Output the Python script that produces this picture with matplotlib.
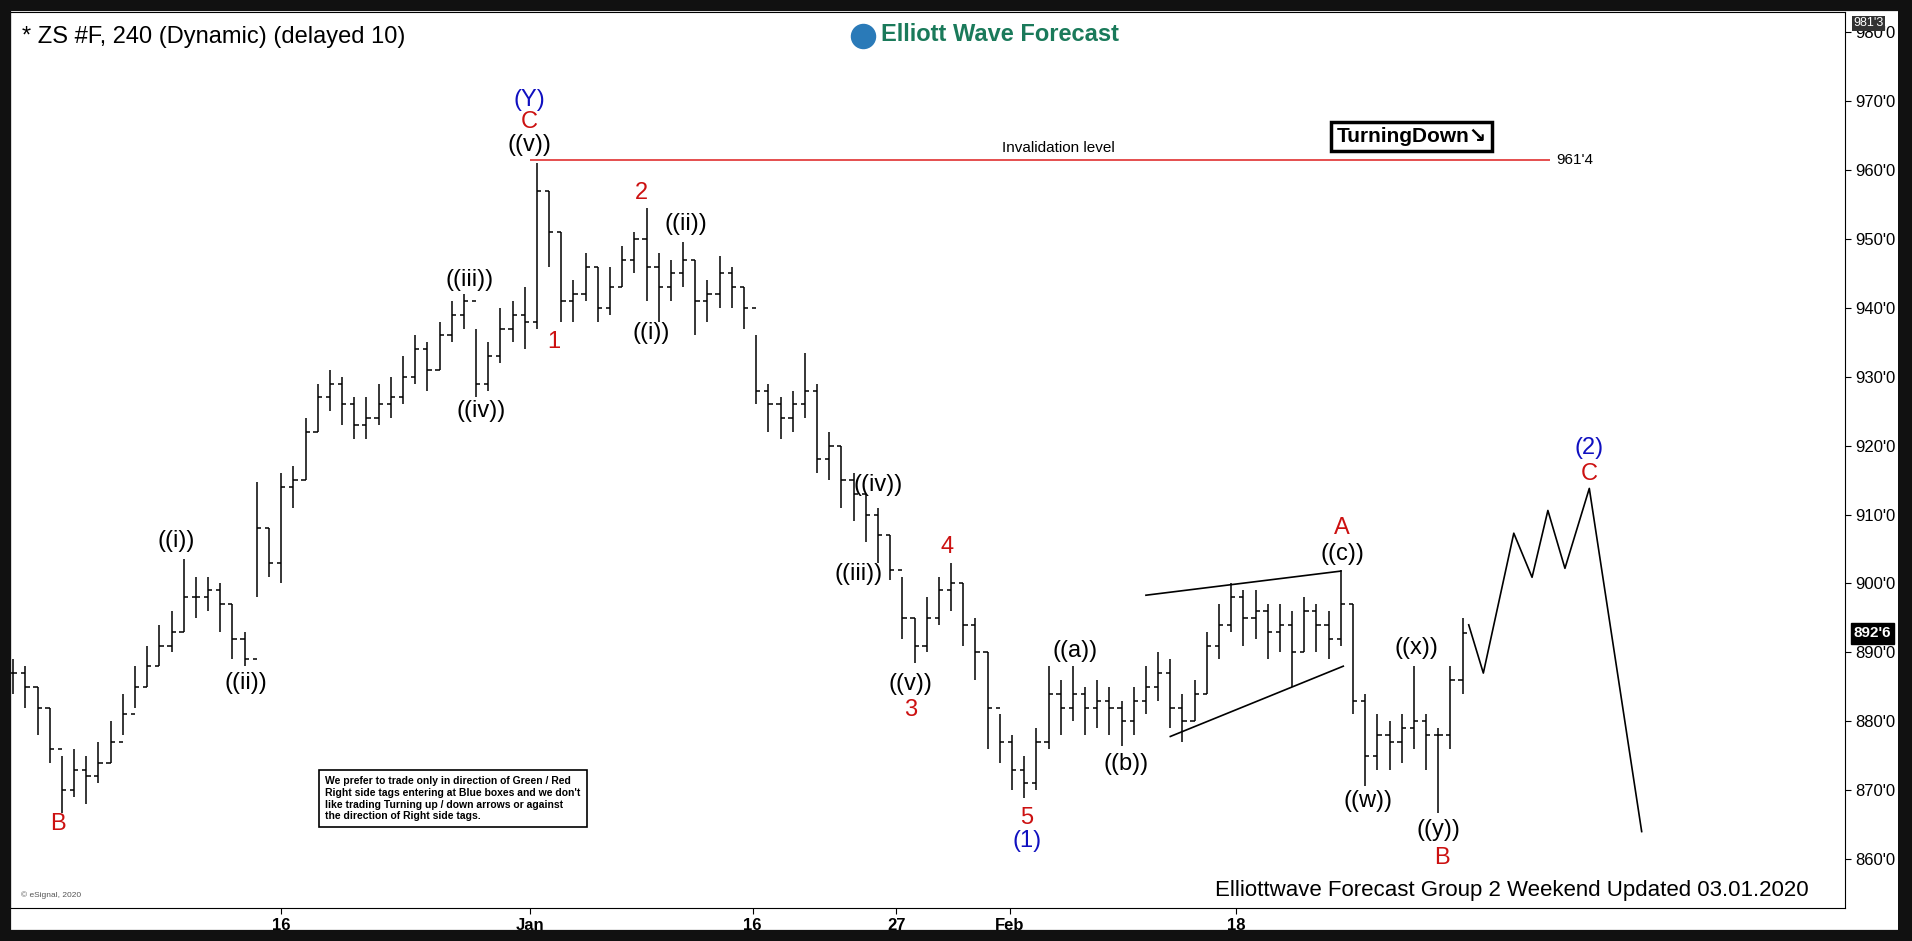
import matplotlib
matplotlib.use("Agg")
import matplotlib.pyplot as plt
from matplotlib.patches import Rectangle

plt.rcParams['font.family'] = ['Liberation Sans', 'DejaVu Sans']

closes = [887,885,882,876,870,873,872,874,877,881,885,888,891,893,898,898,899,897,892,889,
          908,903,914,915,922,927,929,926,923,924,926,927,930,934,931,936,939,941,929,933,
          937,939,938,957,951,941,942,946,940,943,947,950,946,943,945,947,941,942,945,943,
          940,928,926,924,926,928,918,920,915,913,910,907,902,895,891,895,899,900,894,890,
          882,877,873,871,877,884,882,884,882,883,882,880,883,885,887,882,880,884,891,894,
          898,895,896,893,894,890,896,894,892,897,883,875,878,877,879,880,878,878,886,892.75]
highs = [889,888,885,882,875,876,875,877,880,884,888,891,894,896,903.6,901,901,900,897,893,
         914.7,908,916,917,924,929,931,930,927,927,929,930,933,936,935,938,941,942,937,935,
         940,941,943,961,957,951,944,948,946,946,949,951,954.5,948,947,949.5,947,944,947.5,946,
         943,936,929,927,928,933.5,929,922,920,916,913,911,907,901,895,898,901,903,900,895,
         890,881,878,875,879,888,886,888,885,886,885,883,885,888,890,889,884,886,893,897,
         900,899,899,897,897,896,898,897,896,902,897,884,881,880,881,888,881,879,888,895]
lows = [884,882,878,874,866.7,869,868,871,874,878,882,885,888,890,893,895,896,893,889,888,
        898,901,900,911,915,922,925,923,921,921,923,924,926,929,928,931,935,937,927,928,
        932,935,934,937,946,938,938,941,938,939,943,945,941,938,941,943,936,938,940,940,
        937,926,922,921,922,924,916,915,911,909,906,903,900.5,892,888.5,890,894,896,891,886,
        876,874,870,868.8,870,876,878,880,878,879,878,876.4,878,881,883,879,877,880,884,889,
        893,891,892,889,890,885,890,890,889,891,881,870.6,873,873,874,876,873,866.7,876,884]

tick_pos = [22, 42.4, 60.7, 72.5, 81.8, 100.4]
tick_lbl = ["16", "Jan", "16", "27", "Feb", "18"]
fc_x = [119.5, 120.7, 123.2, 124.7, 126.0, 127.4, 129.4, 133.7]
fc_y = [894, 887, 907.3, 900.9, 910.6, 902.2, 913.8, 864]
invalid = 961.5
tri_up = ([93, 109], [898.3, 901.8])
tri_lo = ([95, 109.2], [877.8, 888])
labels = [("(Y)", 42.4, 970.2, "#1010c0"), ("C", 42.4, 966.9, "#cc1111"), ("((v))", 42.4, 963.7, "k"),
          ("2", 51.6, 956.6, "#cc1111"), ("((ii))", 55.2, 952.2, "k"), ("((iii))", 37.5, 944, "k"),
          ("1", 44.4, 935, "#cc1111"), ("((i))", 52.4, 936.4, "k"), ("((iv))", 38.4, 925, "k"),
          ("((i))", 13.4, 906.2, "k"), ("((ii))", 19.1, 885.6, "k"), ("B", 3.7, 865.1, "#cc1111"),
          ("((iv))", 71, 914.3, "k"), ("((iii))", 69.4, 901.4, "k"), ("4", 76.7, 905.3, "#cc1111"),
          ("((v))", 73.7, 885.4, "k"), ("3", 73.7, 881.7, "#cc1111"), ("((a))", 87.2, 890.2, "k"),
          ("((b))", 91.4, 873.8, "k"), ("5", 83.2, 866, "#cc1111"), ("(1)", 83.2, 862.6, "#1010c0"),
          ("A", 109.1, 908.1, "#cc1111"), ("((c))", 109.1, 904.3, "k"), ("((x))", 115.2, 890.7, "k"),
          ("((w))", 111.2, 868.5, "k"), ("((y))", 117, 864.2, "k"), ("B", 117.3, 860.2, "#cc1111"),
          ("(2)", 129.4, 919.6, "#1010c0"), ("C", 129.4, 915.9, "#cc1111")]
yticks = [860, 870, 880, 890, 900, 910, 920, 930, 940, 950, 960, 970, 980]

fig = plt.figure(figsize=(19.12, 9.41), dpi=100, facecolor="white")
fig.patches.append(Rectangle((0, 0), 1, 1, transform=fig.transFigure, fill=False,
                             ec="#111111", lw=16, zorder=10))
fig.patches.append(Rectangle((0.9925, 0), 0.02, 1, transform=fig.transFigure, fc="#111111",
                             ec="none", zorder=10))
ax = fig.add_axes([0.005, 0.035, 0.96, 0.952])
ax.set_facecolor("white")
ax.set_xlim(-0.3, 150.4)
ax.set_ylim(852.9, 982.9)

opens = [closes[0]] + closes[:-1]
for i, (o, h, l, c) in enumerate(zip(opens, highs, lows, closes)):
    ax.vlines(i, l, h, color="black", lw=1.1)
    ax.hlines(o, i - 0.35, i, color="black", lw=1.1)
    ax.hlines(c, i, i + 0.35, color="black", lw=1.1)

ax.plot(fc_x, fc_y, color="black", lw=1.2)
ax.plot(*tri_up, color="black", lw=1.2)
ax.plot(*tri_lo, color="black", lw=1.2)
ax.hlines(invalid, 42.4, 126.2, color="#e03030", lw=1.2)
ax.text(85.8, 963.2, "Invalidation level", fontsize=11, ha="center", va="center")
ax.text(128.2, invalid, "961'4", fontsize=11, ha="center", va="center")

for t, x, y, c in labels:
    ax.text(x, y, t, color=c, fontsize=17, ha="center", va="center")

ax.yaxis.tick_right()
ax.set_yticks(yticks)
ax.set_yticklabels([f"{v}'0" for v in yticks], fontsize=12)
ax.set_xticks(tick_pos)
ax.set_xticklabels(tick_lbl, fontsize=12, fontweight="bold")
ax.tick_params(direction="out", length=4)
for s in ax.spines.values():
    s.set_color("black")

ax.text(0.007, 0.985, "* ZS #F, 240 (Dynamic) (delayed 10)", transform=ax.transAxes,
        fontsize=17, va="top", ha="left")
ax.text(0.475, 0.988, "Elliott Wave Forecast", transform=ax.transAxes, fontsize=17,
        fontweight="bold", color="#1a7a5a", va="top", ha="left")
ax.scatter([0.465], [0.973], transform=ax.transAxes, s=300, color="#2a7ab8", zorder=5)
ax.text(0.98, 0.008, "Elliottwave Forecast Group 2 Weekend Updated 03.01.2020", transform=ax.transAxes,
        fontsize=16, ha="right", va="bottom")
ax.text(0.172, 0.122, "We prefer to trade only in direction of Green / Red\nRight side tags entering at Blue boxes and we don't\n"
        "like trading Turning up / down arrows or against\nthe direction of Right side tags.",
        transform=ax.transAxes, fontsize=7.5, fontweight="bold", va="center", ha="left",
        bbox=dict(boxstyle="square,pad=0.6", fc="white", ec="black", lw=1.2))
ax.text(114.8, 964.9, "TurningDown\u2198", fontsize=15, fontweight="bold", ha="center", va="center",
        bbox=dict(boxstyle="square,pad=0.25", fc="white", ec="black", lw=2.5))
ax.text(151.1, closes[-1], "892'6", fontsize=11, color="white", fontweight="bold",
        va="center", ha="left", bbox=dict(boxstyle="square,pad=0.2", fc="black", ec="black"), clip_on=False)
ax.text(151.1, 981.3, "981'3", fontsize=9, color="white",
        va="center", ha="left", bbox=dict(boxstyle="square,pad=0.1", fc="#333333", ec="none"), clip_on=False)
ax.text(0.006, 0.012, "\u00a9 eSignal, 2020", transform=ax.transAxes, fontsize=6, color="#555555")
fig.savefig("out.png", dpi=100, facecolor="white")
